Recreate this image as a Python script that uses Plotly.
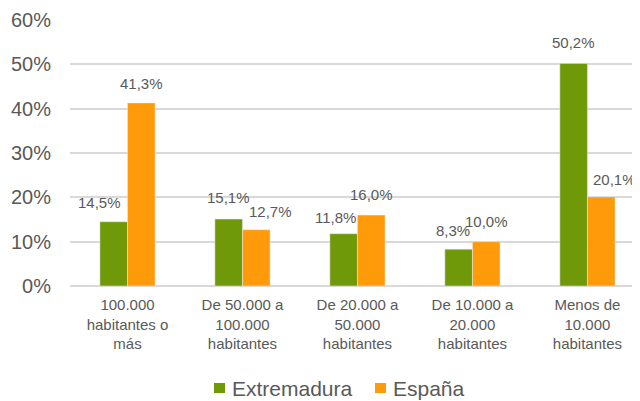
import plotly.graph_objects as go

categories = [
    "100.000<br>habitantes o<br>más",
    "De 50.000 a<br>100.000<br>habitantes",
    "De 20.000 a<br>50.000<br>habitantes",
    "De 10.000 a<br>20.000<br>habitantes",
    "Menos de<br>10.000<br>habitantes",
]
series_names = ["Extremadura", "España"]
extremadura = [0.145, 0.151, 0.118, 0.083, 0.502]
espana = [0.413, 0.127, 0.160, 0.100, 0.201]
y_ticks = [0, 0.1, 0.2, 0.3, 0.4, 0.5, 0.6]

GREEN = "#70990A"
ORANGE = "#FF9A0B"
TXT = "#595959"
FONT = "Liberation Sans, Arial, sans-serif"

xi = list(range(len(categories)))
BARGAP = 0.52
half = (1 - BARGAP) / 4  # center offset of each bar in group

fig = go.Figure()
fig.add_trace(go.Bar(x=xi, y=extremadura, name=series_names[0], marker_color=GREEN))
fig.add_trace(go.Bar(x=xi, y=espana, name=series_names[1], marker_color=ORANGE))

# label nudges (pixels) mimicking the hand-placed labels of the original
ext_nudge = [(-14, 9), (0, 11), (-8, 6), (-6, 8), (0, 10)]
esp_nudge = [(0, 9), (14, 8), (0, 10), (0, 10), (13, 7)]

for series, sign, nudge in ((extremadura, -1, ext_nudge), (espana, 1, esp_nudge)):
    for i, v in enumerate(series):
        dx, dy = nudge[i]
        fig.add_annotation(
            x=i + sign * half, y=v, xref="x", yref="y",
            text=f"{v*100:.1f}%".replace(".", ","),
            showarrow=False, yanchor="bottom", xanchor="center",
            xshift=dx, yshift=dy,
            font=dict(family=FONT, size=15, color=TXT),
        )

# legend drawn below the plot (square swatch + label)
legend_items = [(series_names[0], GREEN, 0.2526, 0.2807),
                (series_names[1], ORANGE, 0.5351, 0.5632)]
for name, col, sx, tx in legend_items:
    fig.add_shape(type="rect", xref="paper", yref="paper",
                  x0=sx, x1=sx + 0.0193, y0=-0.4023, y1=-0.3647,
                  fillcolor=col, line_width=0)
    fig.add_annotation(x=tx, y=-0.3835, xref="paper", yref="paper",
                       text=name, showarrow=False, xanchor="left", yanchor="middle",
                       font=dict(family=FONT, size=21, color=TXT))

fig.update_layout(
    width=632, height=393,
    margin=dict(l=62, r=0, t=12, b=115),
    paper_bgcolor="white", plot_bgcolor="white",
    barmode="group", bargap=BARGAP, bargroupgap=0,
    font=dict(family=FONT, color=TXT),
    showlegend=False,
)
fig.update_xaxes(
    tickvals=xi, ticktext=categories,
    range=[-0.5, 4.457],
    showgrid=False, zeroline=False, showline=False, ticks="",
    ticklabelstandoff=8,
    tickfont=dict(family=FONT, size=15, color=TXT),
)
fig.update_yaxes(
    range=[0, 0.6], tickvals=y_ticks, tickformat=".0%",
    showgrid=True, gridcolor="#D9D9D9", gridwidth=1.5,
    zeroline=True, zerolinecolor="#D9D9D9", zerolinewidth=1.5,
    showline=False, ticks="", ticklabelstandoff=18,
    tickfont=dict(family=FONT, size=20, color=TXT),
)

fig.write_html("out.html")
